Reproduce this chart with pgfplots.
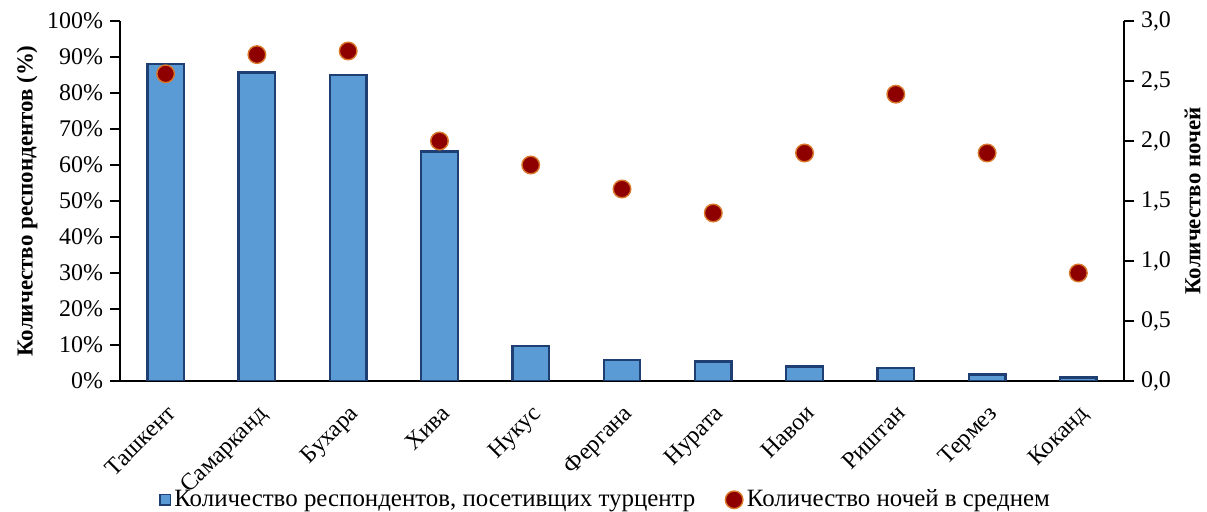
\documentclass[border=0pt]{standalone}
\usepackage{fontspec}
\setmainfont{Liberation Serif}
\usepackage{pgfplots}
\pgfplotsset{compat=1.18}

\definecolor{barblue}{HTML}{5B9BD5}
\definecolor{bardark}{HTML}{1F3F73}
\definecolor{dotred}{HTML}{8E0000}
\definecolor{dotrim}{HTML}{D9772B}

\begin{document}
\begin{tikzpicture}
\pgfplotsset{
  common/.style={
    scale only axis,
    width=502bp, height=180bp,
    xmin=-0.5, xmax=10.5,
    tick align=outside,
    major tick length=5bp,
    tick style={black, line width=0.6bp},
    axis line style={black, line width=0.6bp},
    tick label style={font=\fontsize{12}{14}\selectfont},
    /pgf/number format/assume math mode=true,
  },
}
\begin{axis}[common,
    axis x line*=bottom, axis y line*=left,
    ymin=0, ymax=100,
    ytick={0,10,...,100},
    yticklabel={\pgfmathprintnumber{\tick}\%},
    xtick={0,...,10},
    xticklabels={Ташкент,Самарканд,Бухара,Хива,Нукус,Фергана,Нурата,Навои,Риштан,Термез,Коканд},
    x tick style={draw=none},
    xticklabel style={rotate=45, anchor=north east, font=\fontsize{12}{14}\selectfont, xshift=-1bp, yshift=-1bp},
    extra x ticks={-0.5,0.5,...,10.5},
    extra x tick labels={},
    extra x tick style={tick style={black, line width=0.6bp}},
    ylabel={\textbf{Количество респондентов (\%)}},
    ylabel style={font=\fontsize{11.5}{13}\selectfont, yshift=-2bp},
    ybar, bar width=0.4, bar shift=0pt,
  ]
\addplot[fill=barblue, draw=bardark, line width=1.2bp] coordinates {
(0,88.0) (1,85.7) (2,85.0) (3,63.8) (4,9.8) (5,5.8) (6,5.4) (7,4.0) (8,3.6) (9,1.8) (10,1.0)
};
\end{axis}
\begin{axis}[common,
    axis y line*=right, axis x line=none,
    ymin=0, ymax=3,
    ytick={0,0.5,...,3},
    yticklabel style={/pgf/number format/.cd, fixed, fixed zerofill, precision=1, use comma},
    ylabel={\textbf{Количество ночей}},
    ylabel style={font=\fontsize{11.5}{13}\selectfont},
    legend style={at={(0.485,-0.33)}, anchor=center, draw=none, fill=none,
      legend columns=2, font=\fontsize{12.5}{14}\selectfont,
      /tikz/every even column/.append style={column sep=13bp}},
    legend cell align=left,
  ]
\addlegendimage{only marks, mark=square*, mark size=2.6bp, mark options={fill=barblue, draw=bardark, line width=0.8bp}}
\addlegendentry{Количество респондентов, посетивщих турцентр}
\addplot[only marks, mark=*, mark size=4.4bp, mark options={fill=dotred, draw=dotrim, line width=0.7bp}] coordinates {
(0,2.56) (1,2.72) (2,2.75) (3,2.0) (4,1.8) (5,1.6) (6,1.4) (7,1.9) (8,2.39) (9,1.9) (10,0.9)
};
\addlegendentry{Количество ночей в среднем}
\end{axis}
\pgfresetboundingbox
\path[use as bounding box] (-60bp,-65.5bp) rectangle (543.5bp,190.5bp);
\end{tikzpicture}
\end{document}
